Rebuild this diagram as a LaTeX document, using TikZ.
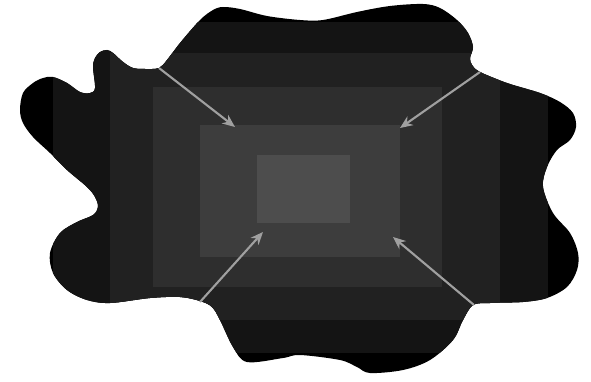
\documentclass[tikz,border=0pt]{standalone}
\usepackage{xcolor}
\usepackage{tikz}
\usetikzlibrary{arrows.meta}
\definecolor{bandzero}{RGB}{0,0,0}
\definecolor{bandone}{RGB}{20,20,20}
\definecolor{bandtwo}{RGB}{33,33,33}
\definecolor{bandthree}{RGB}{46,46,46}
\definecolor{bandfour}{RGB}{61,61,61}
\definecolor{bandfive}{RGB}{77,77,77}
\definecolor{arrowgrey}{RGB}{160,160,160}
\tikzset{
  band/.style={draw=none},
  pusharrow/.style={-{Stealth[length=9pt, width=7.5pt]}, line width=1.5pt, color=arrowgrey}
}

\begin{document}
\begin{tikzpicture}[x=0.025cm, y=-0.025cm]
  \useasboundingbox (0,0) rectangle (591,381);

  % Blob with nested bands
  \begin{scope}
    \clip plot[smooth cycle, tension=0.55] coordinates {
      (159,68) (167,60) (180,43) (200,20) (213,10) (223,7) (240,9) (267,16)
      (300,20) (323,20) (357,12) (390,6) (423,4) (440,8) (457,20) (468,33)
      (473,47) (470,58) (472,65) (480,72) (507,83) (540,93) (560,102)
      (573,113) (576,127) (570,140) (557,150) (547,167) (543,187) (553,213)
      (570,233) (578,253) (577,270) (567,287) (547,298) (523,302) (490,303)
      (473,305) (463,320) (453,340) (430,360) (403,370) (370,373) (357,367)
      (340,360) (300,355) (283,358) (247,362) (233,347) (220,320) (212,307)
      (200,301) (180,297) (150,298) (110,303) (87,300) (67,290) (53,273)
      (50,253) (60,233) (77,222) (93,215) (98,207) (95,197) (87,187)
      (67,170) (50,153) (33,137) (23,123) (20,110) (23,93) (33,83) (43,78)
      (53,77) (67,83) (80,92) (90,93) (95,88) (93,67) (95,58) (100,52)
      (107,50) (113,53) (123,62) (133,68) (145,69)};
    \fill[band, bandzero] (0,0) rectangle (591,381);
    \foreach \l/\t/\r/\b/\c in {53/22/548/353/bandone, 110/53/500/320/bandtwo,
        153/87/442/287/bandthree, 200/125/400/257/bandfour, 257/155/350/223/bandfive}
      \fill[band, \c] (\l,\t) rectangle (\r,\b);
  \end{scope}

  % Arrow ends
  \coordinate (nwtail) at (159,68);
  \coordinate (nwhead) at (235,127);
  \coordinate (netail) at (480,72);
  \coordinate (nehead) at (400,128);
  \coordinate (swtail) at (200,302);
  \coordinate (swhead) at (263,232);
  \coordinate (setail) at (474,305);
  \coordinate (sehead) at (393,237);

  % Arrows
  \draw[pusharrow] (nwtail) -- (nwhead);
  \draw[pusharrow] (netail) -- (nehead);
  \draw[pusharrow] (swtail) -- (swhead);
  \draw[pusharrow] (setail) -- (sehead);
\end{tikzpicture}
\end{document}
